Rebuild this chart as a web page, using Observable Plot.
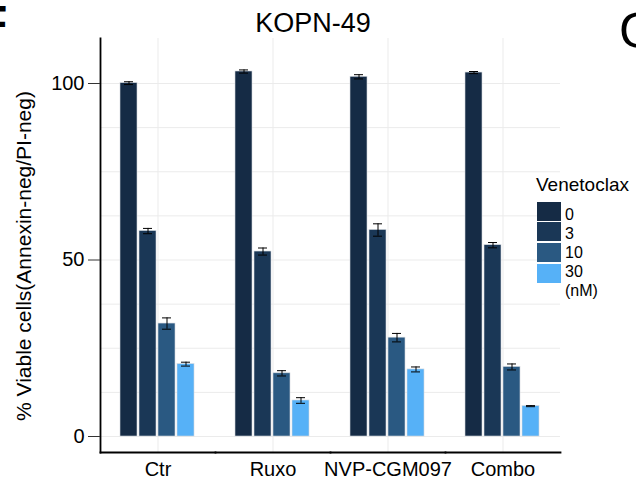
<!DOCTYPE html>
<html><head><meta charset="utf-8">
<script src="https://cdn.jsdelivr.net/npm/d3@7"></script>
<script src="https://cdn.jsdelivr.net/npm/@observablehq/plot@0.6"></script>
<style>
body{margin:0;background:#fff;font-family:"Liberation Sans",Arial,sans-serif;color:#000;}
#wrap{position:relative;width:636px;height:484px;overflow:hidden;background:#fff;}
#title{position:relative;height:36px;}
.abs{position:absolute;white-space:nowrap;line-height:1;}
#chart svg{display:block;}
</style></head><body>
<div id="wrap">
  <div id="title"></div>
  <div id="chart"></div>
</div>
<script>
const treatments = ["Ctr", "Ruxo", "NVP-CGM097", "Combo"];
const doses = ["0", "3", "10", "30"];
const ctrMean = [100.1, 58.2, 32.0, 20.5];
const ruxoMean = [103.4, 52.4, 17.9, 10.2];
const nvpMean = [101.9, 58.5, 28.0, 19.0];
const comboMean = [103.1, 54.2, 19.7, 8.6];
const ctrSE = [0.4, 0.75, 1.6, 0.55];
const ruxoSE = [0.45, 1.0, 0.75, 0.8];
const nvpSE = [0.6, 1.75, 1.2, 0.7];
const comboSE = [0.3, 0.75, 0.85, 0.15];
const doseColors = ["#152b45", "#1a3756", "#2a5982", "#56b1f7"];
const yTicks = [0, 50, 100];
const gridTicks = [0, 12.5, 25, 37.5, 50, 62.5, 75, 87.5, 100];
const titleText = "KOPN-49";
const yLabel = "% Viable cells(Annexin-neg/PI-neg)";
const legendTitle = "Venetoclax";
const legendUnit = "(nM)";
const panelLabels = ["F", "G"];

const means = [ctrMean, ruxoMean, nvpMean, comboMean];
const ses = [ctrSE, ruxoSE, nvpSE, comboSE];
const data = treatments.flatMap((t, i) => doses.map((d, j) => ({treatment: t, dose: d, mean: means[i][j], se: ses[i][j]})));

const plot = Plot.plot({
  width: 636, height: 448,
  marginTop: 2, marginBottom: 32, marginLeft: 99, marginRight: 74.4,
  style: {fontFamily: "Liberation Sans, Arial, sans-serif", background: "white", color: "black"},
  fx: {domain: treatments, padding: 0, axis: null, label: null},
  x: {domain: doses, paddingInner: 0.1, paddingOuter: 0.925, axis: null},
  y: {domain: [-4.53, 112.75], axis: null},
  color: {type: "ordinal", domain: doses, range: doseColors},
  marks: [
    Plot.gridY(gridTicks, {stroke: "#ebebeb", strokeOpacity: 1, strokeWidth: 1}),
    Plot.ruleX(treatments.map(t => ({treatment: t})), {fx: "treatment", x: null, stroke: "#ebebeb", strokeOpacity: 1}),
    Plot.barY(data, {fx: "treatment", x: "dose", y: "mean", fill: "dose", stroke: "#d3d8de", strokeWidth: 0.6}),
    Plot.ruleX(data, {fx: "treatment", x: "dose", y1: d => d.mean - d.se, y2: d => d.mean + d.se, stroke: "black", strokeWidth: 1}),
    Plot.tickY(data, {fx: "treatment", x: "dose", y: d => d.mean + d.se, insetLeft: 4, insetRight: 4, stroke: "black", strokeWidth: 1}),
    Plot.tickY(data, {fx: "treatment", x: "dose", y: d => d.mean - d.se, insetLeft: 4, insetRight: 4, stroke: "black", strokeWidth: 1}),
    Plot.frame({anchor: "bottom", stroke: "black", strokeWidth: 1.8}),
    Plot.frame({anchor: "left", facetAnchor: "left", stroke: "black", strokeWidth: 1.8}),
    Plot.axisY({ticks: yTicks, tickSize: 12, tickPadding: 4, fontSize: 20, stroke: "#333", fill: "black", label: null}),
    Plot.axisFx({anchor: "bottom", tickSize: 0, tickPadding: 9, fontSize: 20, fill: "black", label: null}),
    Plot.text([{treatment: treatments[0], label: yLabel}], {fx: "treatment", text: "label", frameAnchor: "left", textAnchor: "middle", lineAnchor: "middle", rotate: -90, dx: -76, dy: 10.5, fontSize: 21, fill: "black"})
  ]
});
document.getElementById("chart").appendChild(plot);

const wrap = document.getElementById("wrap");
function addText(txt, left, top, size, extra) {
  const el = document.createElement("div");
  el.className = "abs";
  el.textContent = txt;
  el.style.left = left + "px";
  el.style.top = top + "px";
  el.style.fontSize = size + "px";
  if (extra) Object.assign(el.style, extra);
  wrap.appendChild(el);
  return el;
}
// title
addText(titleText, 0, 9.8, 27, {width: "626px", textAlign: "center"});
// panel labels (cut by the figure edge, as in the reference)
addText(panelLabels[0], -22, -0.6, 48, {fontWeight: "bold"});
addText(panelLabels[1], 619, 5.7, 50);
// legend
const color = plot.scale("color");
addText(legendTitle, 536, 174.9, 19);
doses.forEach((d, i) => {
  const sw = document.createElement("div");
  sw.style.position = "absolute";
  sw.style.left = "537px";
  sw.style.top = (201.5 + i * 20.8) + "px";
  sw.style.width = "24px";
  sw.style.height = "19px";
  sw.style.background = color.apply(d);
  wrap.appendChild(sw);
});
[...doses, legendUnit].forEach((d, i) => {
  addText(d, 565, 221 + i * 19 - 13.55, 16);
});
</script>
</body></html>
